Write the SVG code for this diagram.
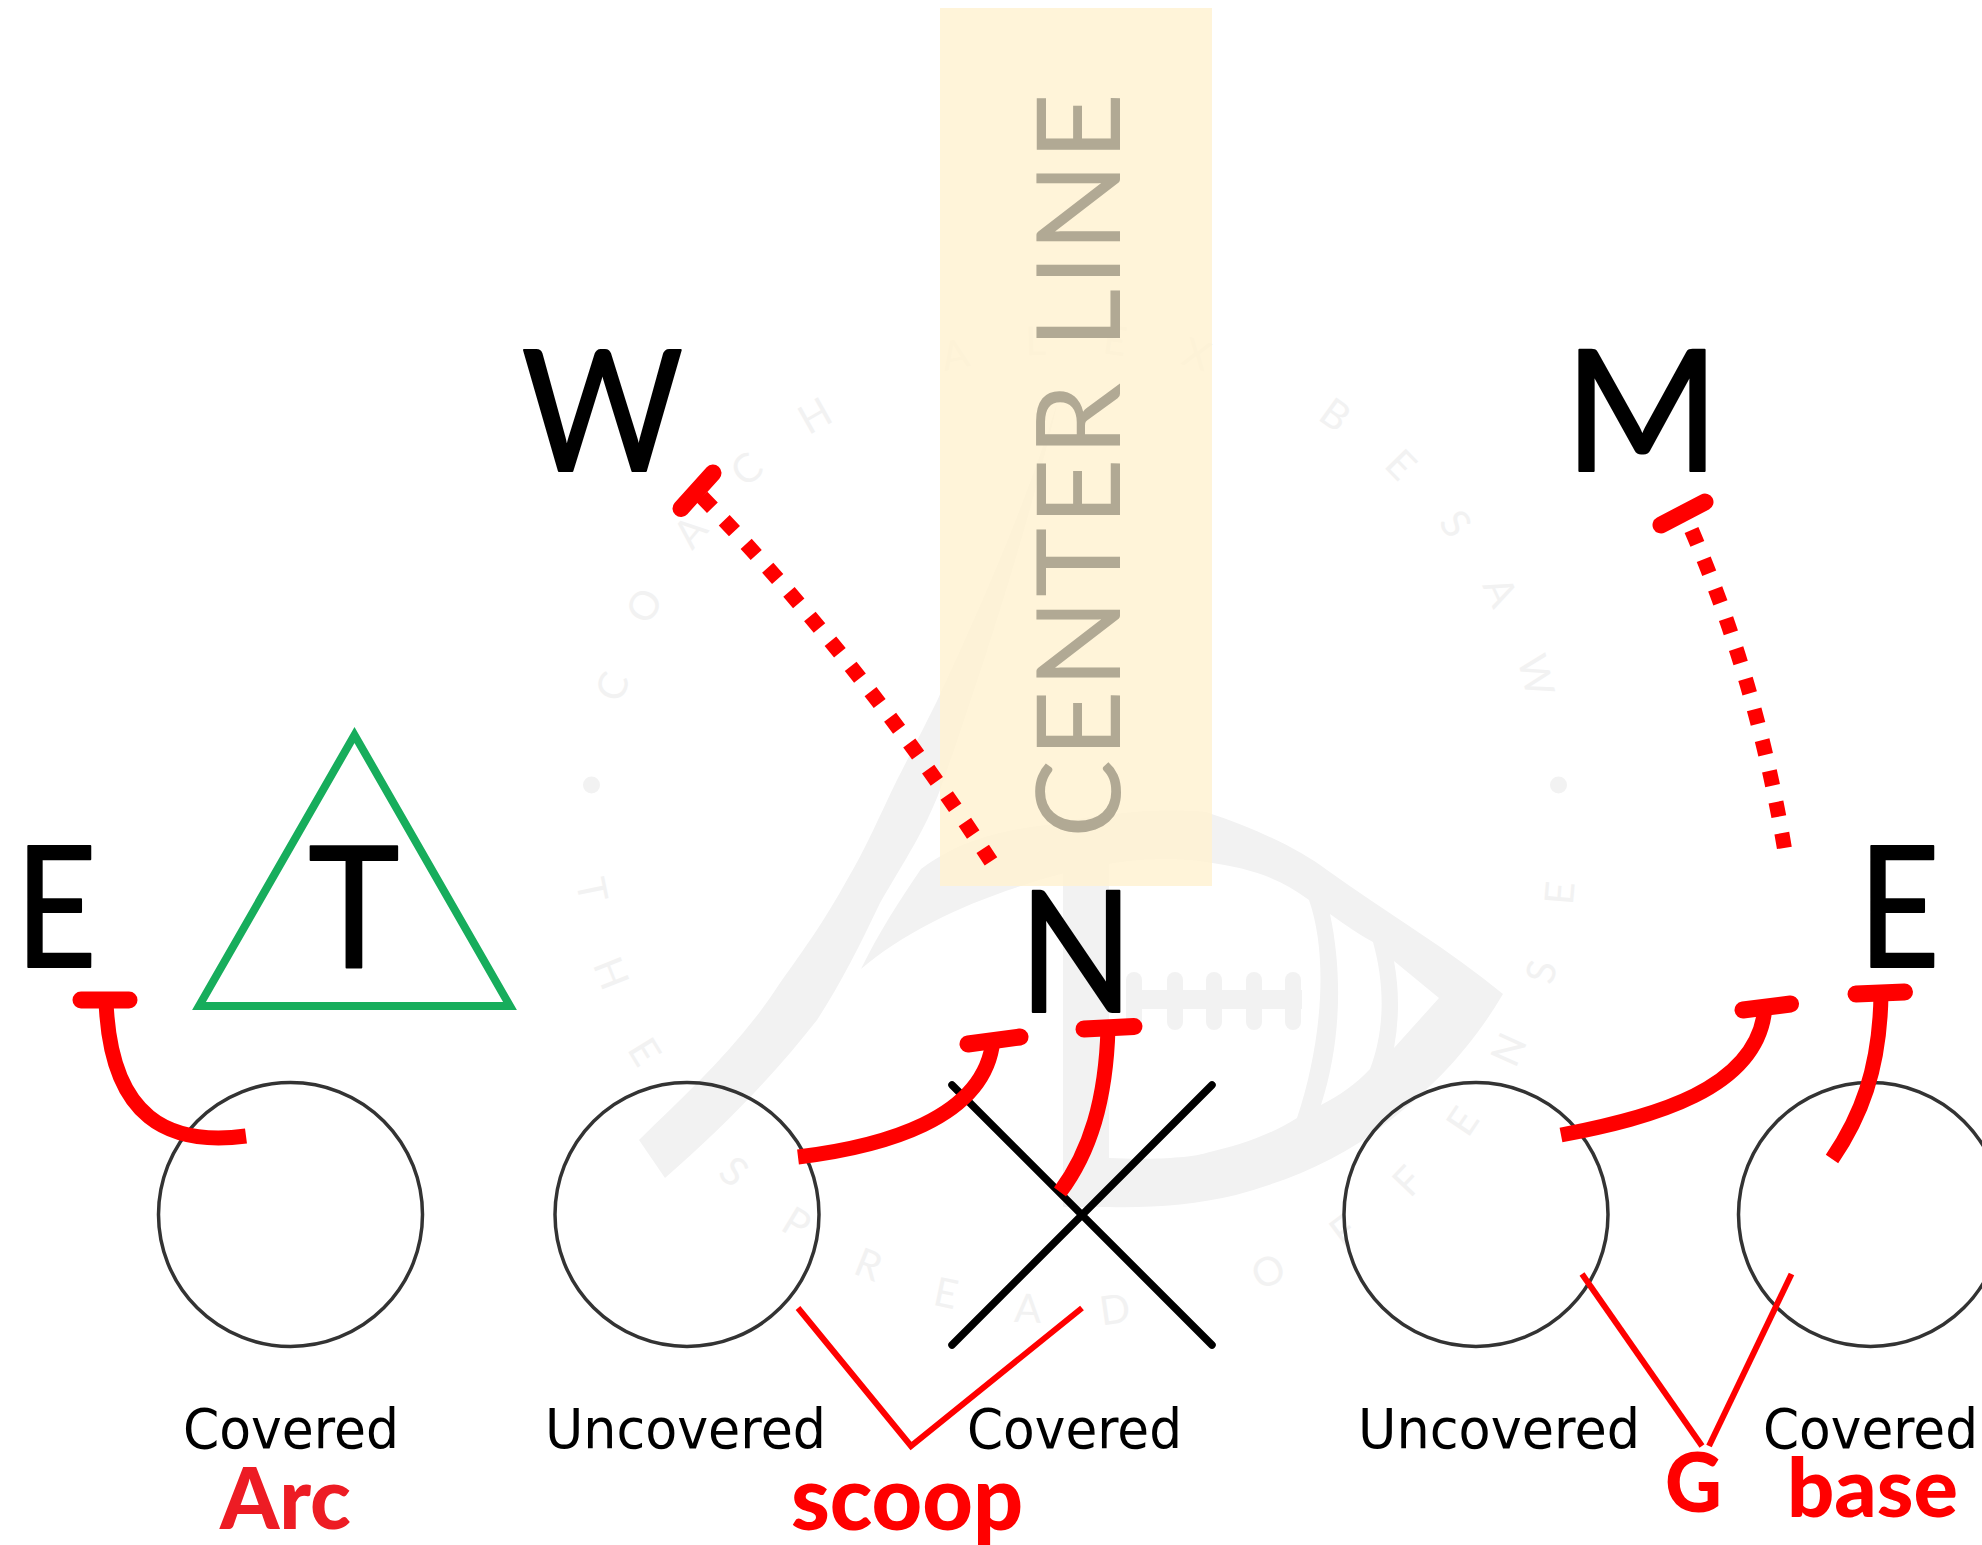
<svg xmlns="http://www.w3.org/2000/svg" width="1982" height="1545" viewBox="0 0 1982 1545">
<style>
.bg{fill:#fff}
.wm{fill:#f2f2f2}
.wt{fill:#f2f2f2;font-family:"Lato",sans-serif;font-size:40px;text-anchor:middle}
.big{font-family:"Lato",sans-serif;font-size:168px;fill:#000;stroke:#000;stroke-width:2;stroke-linejoin:round;text-anchor:middle}
.cap{font-family:"DejaVu Sans",sans-serif;font-size:55px;fill:#000}
.lbl{font-family:"Lato",sans-serif;font-weight:900;fill:#f00}
.p{fill:none;stroke:#333;stroke-width:3.5}
.x{stroke:#000;stroke-width:7.5;stroke-linecap:round;fill:none}
.c{fill:none;stroke:#f00;stroke-width:15}
.t{fill:none;stroke:#f00;stroke-width:17;stroke-linecap:round}
.d{fill:none;stroke:#f00;stroke-width:15}
.b{fill:none;stroke:#f00;stroke-width:6}
</style>
<defs>
<path id="wmTop" d="M608,822 A468,468 0 0 1 1544,822"/>
<path id="wmBot" d="M574,822 A502,502 0 0 0 1578,822"/>
</defs>
<rect class="bg" width="1982" height="1545"/>
<g id="watermark">
<path class="wm" d="M639,1140 C690,1090 740,1045 780,983 C805,948 825,920 847,880 C865,850 880,815 897,780 C915,745 925,725 937,701 C970,630 1025,510 1058,400 C1040,480 1000,620 940,790 C925,830 905,860 880,903 C860,945 840,985 817,1020 C770,1080 720,1130 665,1178 Z"/>
<path class="wm" fill-rule="evenodd" d="M921,869 C960,840 1000,830 1055,824 C1110,812 1160,808 1206,812 C1260,830 1300,850 1327,870 C1390,915 1450,950 1503,994 C1470,1050 1430,1090 1388,1122 C1340,1160 1290,1180 1236,1195 C1195,1205 1150,1208 1109,1207 L1109,1158 C1150,1160 1190,1158 1206,1153 C1240,1145 1270,1135 1297,1118 C1320,1050 1330,960 1309,900 C1280,878 1250,868 1206,862 C1140,852 1070,870 1024,885 C960,905 900,935 861,969 C880,930 900,900 921,869 Z M1330,914 C1345,925 1360,935 1373,942 C1385,985 1385,1030 1370,1069 C1355,1085 1340,1095 1321,1105 C1342,1040 1342,970 1330,914 Z M1394,961 L1439,998 L1394,1048 Q1402,1005 1394,961 Z"/>
<rect class="wm" x="1063" y="850" width="46" height="357"/>
<rect class="wm" x="1127" y="990" width="175" height="19"/>
<rect class="wm" x="1126" y="972" width="16" height="58" rx="8"/>
<rect class="wm" x="1167" y="972" width="16" height="58" rx="8"/>
<rect class="wm" x="1206" y="972" width="16" height="58" rx="8"/>
<rect class="wm" x="1246" y="972" width="16" height="58" rx="8"/>
<rect class="wm" x="1285" y="972" width="16" height="58" rx="8"/>
<circle class="wm" cx="591.5" cy="785" r="8.5"/>
<circle class="wm" cx="1558.5" cy="785" r="8.5"/>
<text class="wt" letter-spacing="55.5"><textPath href="#wmTop" startOffset="760">COACH ALEX BESAW</textPath></text>
<text class="wt" letter-spacing="60.7"><textPath href="#wmBot" startOffset="818">THE SPREAD OFFENSE</textPath></text>
</g>
<g id="center-line">
<rect x="940" y="8" width="272" height="878" fill="#fff1cf" fill-opacity="0.8"/>
<text transform="translate(1120,838) rotate(-90)" font-family="Lato, sans-serif" font-size="117" fill="#b1a994" textLength="745">CENTER LINE</text>
</g>
<g id="node-tackle-triangle"><polygon points="199,1006 510,1006 354.5,735" fill="none" stroke="#17ad5c" stroke-width="8"/><text class="big" transform="translate(354,967) scale(.92,1)">T</text></g>
<g id="node-e-left"><text class="big" transform="translate(56,967) scale(.84,1)">E</text></g>
<g id="node-w"><text class="big" transform="translate(602.5,471) scale(.93,1)">W</text></g>
<g id="node-m"><text class="big" transform="translate(1642,471)">M</text></g>
<g id="node-n"><text class="big" transform="translate(1076,1012) scale(.89,1)">N</text></g>
<g id="node-e-right"><text class="big" transform="translate(1899,967) scale(.84,1)">E</text></g>
<g id="node-player-1"><circle class="p" cx="290.5" cy="1214.5" r="132"/></g>
<g id="node-player-2"><circle class="p" cx="687" cy="1214.5" r="132"/></g>
<g id="node-player-3"><circle class="p" cx="1476" cy="1214.5" r="132"/></g>
<g id="node-player-4"><circle class="p" cx="1870.5" cy="1214.5" r="132"/></g>
<g id="node-x"><path class="x" d="M952,1085 L1212,1345 M1212,1085 L952,1345"/></g>
<g id="connectors">
<path class="c" d="M246,1136 C170,1146 110,1120 106,1000"/>
<path class="t" d="M81,1000 H129"/>
<path class="c" d="M798,1157 C880,1147 985,1120 993,1040"/>
<path class="t" d="M968,1044 L1020,1037"/>
<path class="c" d="M1060,1192 C1090,1152 1106,1100 1108,1028"/>
<path class="t" d="M1084,1029 L1134,1026.5"/>
<path class="c" d="M1561,1135 C1650,1118 1760,1090 1765,1006"/>
<path class="t" d="M1743,1010 L1790.5,1004"/>
<path class="c" d="M1832,1159 C1860,1118 1880,1070 1881,994"/>
<path class="t" d="M1856,994 L1904.5,992"/>
<path class="d" stroke-dasharray="15 17.2" d="M702,497 Q861,661 992,863"/>
<path class="t" d="M681,508.5 L713,473"/>
<path class="d" stroke-dasharray="15 16.7" d="M1691.5,530 Q1758.7,686 1786,858"/>
<path class="t" d="M1661,525 L1705,502"/>
<path class="b" d="M798,1308 L911,1446 L1082,1308"/>
<path class="b" d="M1582,1274 L1702,1446"/>
<path class="b" d="M1791.5,1274 L1709,1446"/>
</g>
<g id="labels">
<text class="cap" x="183" y="1448" textLength="216" lengthAdjust="spacingAndGlyphs">Covered</text>
<text class="cap" x="545" y="1448" textLength="281" lengthAdjust="spacingAndGlyphs">Uncovered</text>
<text class="cap" x="967" y="1448" textLength="215" lengthAdjust="spacingAndGlyphs">Covered</text>
<text class="cap" x="1358" y="1448" textLength="282" lengthAdjust="spacingAndGlyphs">Uncovered</text>
<text class="cap" x="1763" y="1448" textLength="215" lengthAdjust="spacingAndGlyphs">Covered</text>
<text class="lbl" x="220" y="1529" font-size="85" style="fill:#ed1c24" textLength="131" lengthAdjust="spacingAndGlyphs">Arc</text>
<text class="lbl" x="791" y="1530" font-size="90" textLength="232" lengthAdjust="spacingAndGlyphs">scoop</text>
<text class="lbl" x="1665" y="1512" font-size="82" textLength="57" lengthAdjust="spacingAndGlyphs">G</text>
<text class="lbl" x="1787" y="1517" font-size="82" textLength="171" lengthAdjust="spacingAndGlyphs">base</text>
</g>
</svg>
